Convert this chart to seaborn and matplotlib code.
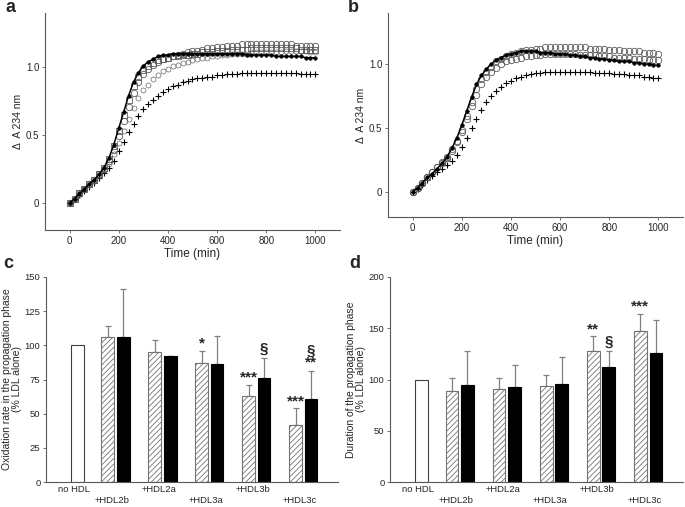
import matplotlib
matplotlib.use("Agg")
import matplotlib.pyplot as plt
import numpy as np
import pandas as pd
import seaborn as sb

sb.set_style("ticks")
plt.rcParams["font.family"] = ["Liberation Sans", "DejaVu Sans"]
plt.rcParams["hatch.linewidth"] = 0.6

# ---------------- kinetic curves (panels a, b) ----------------
time = np.arange(0, 1001, 20)

a_circles = [0.00, 0.03, 0.07, 0.10, 0.14, 0.17, 0.21, 0.25, 0.31, 0.39,
             0.49, 0.60, 0.71, 0.81, 0.89, 0.95, 0.99, 1.02, 1.04, 1.06,
             1.07, 1.08, 1.09, 1.10, 1.11, 1.12, 1.12, 1.13, 1.14, 1.14,
             1.15, 1.15, 1.16, 1.16, 1.16, 1.17, 1.17, 1.17, 1.17, 1.17,
             1.17, 1.17, 1.17, 1.17, 1.17, 1.17, 1.16, 1.16, 1.16, 1.16, 1.16]
a_squares = [0.00, 0.03, 0.07, 0.10, 0.14, 0.17, 0.21, 0.26, 0.32, 0.42,
             0.53, 0.65, 0.76, 0.86, 0.93, 0.98, 1.01, 1.03, 1.05, 1.06,
             1.07, 1.08, 1.08, 1.09, 1.09, 1.10, 1.10, 1.11, 1.11, 1.11,
             1.12, 1.12, 1.12, 1.13, 1.13, 1.13, 1.13, 1.14, 1.14, 1.14,
             1.14, 1.14, 1.14, 1.14, 1.14, 1.14, 1.14, 1.13, 1.13, 1.13, 1.13]
a_black = [0.00, 0.03, 0.07, 0.10, 0.14, 0.17, 0.21, 0.26, 0.33, 0.43,
           0.55, 0.67, 0.79, 0.89, 0.96, 1.01, 1.04, 1.06, 1.08, 1.09,
           1.09, 1.10, 1.10, 1.10, 1.10, 1.10, 1.10, 1.10, 1.10, 1.10,
           1.10, 1.10, 1.10, 1.10, 1.10, 1.10, 1.09, 1.09, 1.09, 1.09,
           1.09, 1.09, 1.08, 1.08, 1.08, 1.08, 1.08, 1.08, 1.07, 1.07, 1.07]
a_small = [0.00, 0.03, 0.06, 0.10, 0.13, 0.16, 0.20, 0.24, 0.29, 0.36,
           0.44, 0.53, 0.62, 0.70, 0.77, 0.83, 0.87, 0.91, 0.94, 0.97,
           0.99, 1.01, 1.02, 1.03, 1.04, 1.05, 1.06, 1.07, 1.07, 1.08,
           1.08, 1.09, 1.09, 1.10, 1.10, 1.10, 1.10, 1.11, 1.11, 1.11,
           1.11, 1.11, 1.11, 1.11, 1.12, 1.12, 1.12, 1.12, 1.12, 1.11, 1.11]
a_plus = [0.00, 0.03, 0.06, 0.09, 0.12, 0.15, 0.18, 0.22, 0.26, 0.31,
          0.38, 0.45, 0.52, 0.58, 0.64, 0.69, 0.73, 0.76, 0.79, 0.82,
          0.84, 0.86, 0.87, 0.89, 0.90, 0.91, 0.92, 0.92, 0.93, 0.93,
          0.94, 0.94, 0.95, 0.95, 0.95, 0.96, 0.96, 0.96, 0.96, 0.96,
          0.96, 0.96, 0.96, 0.96, 0.96, 0.96, 0.96, 0.95, 0.95, 0.95, 0.95]

b_circles = [0.00, 0.03, 0.07, 0.11, 0.15, 0.19, 0.23, 0.27, 0.33, 0.40,
             0.48, 0.59, 0.70, 0.80, 0.88, 0.94, 0.98, 1.02, 1.04, 1.06,
             1.08, 1.09, 1.10, 1.11, 1.11, 1.12, 1.12, 1.13, 1.13, 1.13,
             1.13, 1.13, 1.13, 1.13, 1.13, 1.13, 1.12, 1.12, 1.12, 1.12,
             1.11, 1.11, 1.11, 1.10, 1.10, 1.10, 1.10, 1.09, 1.09, 1.09, 1.08]
b_small = [0.00, 0.03, 0.07, 0.11, 0.15, 0.19, 0.22, 0.26, 0.32, 0.39,
           0.47, 0.57, 0.67, 0.76, 0.84, 0.90, 0.94, 0.97, 1.00, 1.02,
           1.03, 1.04, 1.05, 1.06, 1.06, 1.07, 1.07, 1.08, 1.08, 1.08,
           1.08, 1.08, 1.08, 1.08, 1.07, 1.07, 1.07, 1.07, 1.06, 1.06,
           1.06, 1.05, 1.05, 1.05, 1.05, 1.04, 1.04, 1.04, 1.03, 1.03, 1.03]
b_black = [0.00, 0.03, 0.07, 0.11, 0.14, 0.18, 0.22, 0.27, 0.34, 0.42,
           0.52, 0.63, 0.74, 0.84, 0.91, 0.96, 1.00, 1.03, 1.05, 1.07,
           1.08, 1.09, 1.10, 1.10, 1.10, 1.10, 1.09, 1.09, 1.09, 1.08,
           1.08, 1.08, 1.07, 1.07, 1.06, 1.06, 1.05, 1.05, 1.04, 1.04,
           1.03, 1.03, 1.02, 1.02, 1.02, 1.01, 1.01, 1.00, 1.00, 0.99, 0.99]
b_plus = [0.00, 0.02, 0.05, 0.09, 0.12, 0.15, 0.18, 0.21, 0.24, 0.29,
          0.35, 0.42, 0.50, 0.57, 0.64, 0.70, 0.75, 0.79, 0.82, 0.85,
          0.87, 0.89, 0.90, 0.91, 0.92, 0.93, 0.93, 0.94, 0.94, 0.94,
          0.94, 0.94, 0.94, 0.94, 0.94, 0.94, 0.94, 0.93, 0.93, 0.93,
          0.93, 0.92, 0.92, 0.92, 0.91, 0.91, 0.91, 0.90, 0.90, 0.89, 0.89]

# ---------------- bar data (panels c, d) ----------------
groups = ["no HDL", "+HDL2b", "+HDL2a", "+HDL3a", "+HDL3b", "+HDL3c"]
control = 100

c_hatched = [106, 95, 87, 63, 42]
c_hatched_err = [8, 9, 9, 8, 12]
c_black = [106, 92, 86, 76, 61]
c_black_err = [35, 0, 21, 15, 20]
c_hatched_sig = ["", "", "*", "***", "***"]
c_black_sig = ["", "", "", "§", "§\n**"]

d_hatched = [89, 91, 94, 128, 147]
d_hatched_err = [12, 10, 10, 14, 17]
d_black = [95, 93, 96, 112, 126]
d_black_err = [33, 21, 26, 16, 32]
d_hatched_sig = ["", "", "", "**", "***"]
d_black_sig = ["", "", "", "§", ""]

W, H = 685, 507
fig = plt.figure(figsize=(W / 100, H / 100), dpi=100)


def px_axes(l, t, r, b):
    return fig.add_axes([l / W, 1 - b / H, (r - l) / W, (b - t) / H])


SPINE = "0.35"


def style(ax, size):
    sb.despine(ax=ax)
    for s in ["left", "bottom"]:
        ax.spines[s].set_color(SPINE)
        ax.spines[s].set_linewidth(0.8)
    ax.tick_params(labelsize=size, length=2, width=0.6, color=SPINE, pad=2)


curve_styles = [
    dict(marker="o", markersize=4.6, markerfacecolor="none", markeredgecolor="0.35", markeredgewidth=0.6, linestyle=""),
    dict(marker="s", markersize=4.0, markerfacecolor="none", markeredgecolor="0.35", markeredgewidth=0.6, linestyle=""),
    dict(marker="o", markersize=2.6, markerfacecolor="black", markeredgecolor="black", markeredgewidth=0.4,
         linestyle="-", linewidth=1.1, color="black"),
    dict(marker="o", markersize=3.6, markerfacecolor="none", markeredgecolor="0.4", markeredgewidth=0.5, linestyle=""),
    dict(marker="+", markersize=4.8, markeredgecolor="black", markeredgewidth=0.8, linestyle=""),
]


def kinetics(ax, series, kinds):
    for y, k in zip(series, kinds):
        sb.lineplot(x=time, y=y, ax=ax, **curve_styles[k])
    style(ax, 7)
    ax.set_xlim(-100, 1100)
    ax.set_ylim(-0.2, 1.4)
    ax.set_xticks([0, 200, 400, 600, 800, 1000])
    ax.set_yticks([0, 0.5, 1.0])
    ax.set_yticklabels(["0", "0.5", "1.0"])
    ax.set_xlabel("Time (min)", fontsize=8.5, labelpad=2)
    ax.set_ylabel("Δ  A 234 nm", fontsize=7.5, labelpad=2)


ax_a = px_axes(45, 13, 340, 230)
kinetics(ax_a, [a_plus, a_small, a_squares, a_circles, a_black], [4, 3, 1, 0, 2])
ax_b = px_axes(388, 13, 683, 217)
kinetics(ax_b, [b_plus, b_small, b_circles, b_black], [4, 0, 0, 2])

# bar positions
pos = np.array([0.19, 1, 2, 3, 4, 5])
bw = 0.27
off = 0.165


def bars(ax, hat, hat_err, blk, blk_err, hat_sig, blk_sig, ymax, step, ylabel):
    gp = pos[1:]
    ax.bar(pos[0], control, width=bw, color="white", edgecolor="0.25", linewidth=0.8, zorder=2)
    ax.bar(gp - off, hat, width=bw, color="white", edgecolor="0.45", hatch="//////",
           linewidth=0.8, zorder=2)
    ax.bar(gp + off, blk, width=bw, color="black", edgecolor="black", linewidth=0.8, zorder=2)
    ax.errorbar(gp - off, hat, yerr=[np.zeros(len(hat)), hat_err], fmt="none",
                ecolor="0.5", elinewidth=0.9, capsize=2.5, capthick=0.9, zorder=1)
    ax.errorbar(gp + off, blk, yerr=[np.zeros(len(blk)), blk_err], fmt="none",
                ecolor="0.5", elinewidth=0.9, capsize=2.5, capthick=0.9, zorder=1)
    for x, v, e, s in zip(gp - off, hat, hat_err, hat_sig):
        if s:
            ax.text(x, v + e, s, ha="center", va="bottom", fontsize=11,
                    fontweight="bold", linespacing=0.75)
    for x, v, e, s in zip(gp + off, blk, blk_err, blk_sig):
        if s:
            ax.text(x, v + e + ymax * 0.01, s, ha="center", va="bottom", fontsize=11,
                    fontweight="bold", linespacing=0.75)
    style(ax, 6.8)
    ax.set_xlim(-0.48, 5.74)
    ax.set_ylim(0, ymax)
    ax.set_yticks(np.arange(0, ymax + 1, step))
    labels = [g if i % 2 == 0 else "\n" + g for i, g in enumerate(groups)]
    ax.set_xticks(pos - 0.08)
    ax.set_xticklabels(labels, fontsize=6.8, linespacing=1.2)
    ax.tick_params(axis="x", length=0, pad=2.5)
    ax.set_ylabel(ylabel, fontsize=7.5, labelpad=1.5, linespacing=1.1)


ax_c = px_axes(46, 277, 338, 482)
bars(ax_c, c_hatched, c_hatched_err, c_black, c_black_err, c_hatched_sig, c_black_sig,
     150, 25, "Oxidation rate in the propagation phase\n(% LDL alone)")
ax_d = px_axes(390, 277, 683, 482)
bars(ax_d, d_hatched, d_hatched_err, d_black, d_black_err, d_hatched_sig, d_black_sig,
     200, 50, "Duration of the propagation phase\n(% LDL alone)")

for lab, x, y in [("a", 10, 8), ("b", 353, 8), ("c", 8, 263), ("d", 355, 263)]:
    fig.text(x / W, 1 - y / H, lab, fontsize=13, fontweight="bold", ha="center", va="center")

fig.savefig("out.png", dpi=100)
